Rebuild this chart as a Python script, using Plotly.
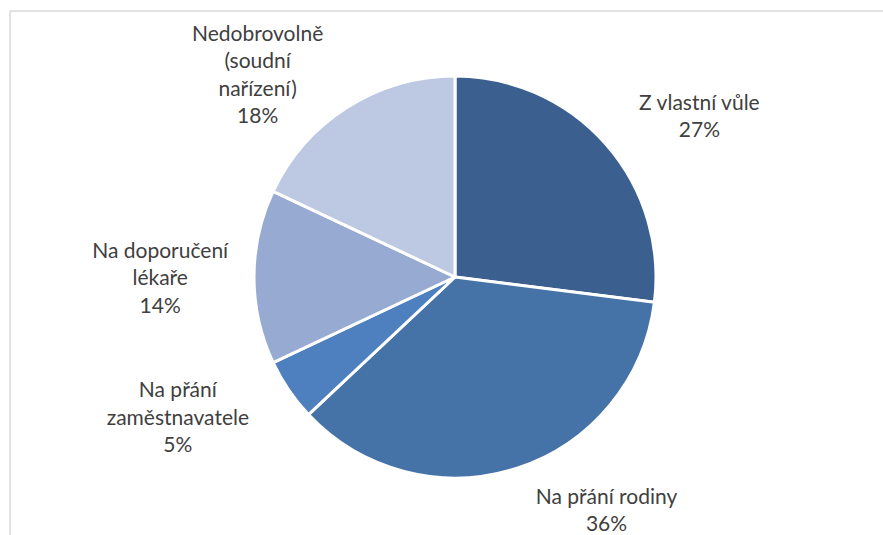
import plotly.graph_objects as go

# data
LABELS = [
    "Z vlastní vůle",
    "Na přání rodiny",
    "Na přání<br>zaměstnavatele",
    "Na doporučení<br>lékaře",
    "Nedobrovolně<br>(soudní<br>nařízení)",
]
VALUES = [27, 36, 5, 14, 18]

COLORS = ["#3b6090", "#4573a8", "#4e80c0", "#97aad2", "#bdc9e2"]
TEXT = "#404040"
FRAME = "#d9d9d9"
FONT = "Lato, Open Sans, sans-serif"

W, H = 883, 535
CX, CY, R = 455, 277, 201      # pie centre / radius in px

# labels sit on a transparent twin pie; each one is pushed out a bit
# (px beyond LABEL_R) to mimic Excel's placement
LABEL_R = 196
LABEL_PUSH = [32, 23, 29, 10, 0]


def domain(r):
    return dict(x=[(CX - r) / W, (CX + r) / W],
                y=[1 - (CY + r) / H, 1 - (CY - r) / H])


pulls = [p / LABEL_R for p in LABEL_PUSH]

fig = go.Figure()

# the visible pie
fig.add_pie(
    labels=LABELS,
    values=VALUES,
    sort=False,
    direction="clockwise",
    rotation=0,
    textinfo="none",
    marker=dict(colors=COLORS, line=dict(color="white", width=3)),
    domain=domain(R),
    showlegend=False,
    hovertemplate="%{label}: %{percent}<extra></extra>",
)

# transparent twin carrying the outside labels
# (plotly shrinks a pulled pie by 1 + max pull, so the domain is widened to match)
fig.add_pie(
    labels=LABELS,
    values=VALUES,
    sort=False,
    direction="clockwise",
    rotation=0,
    pull=pulls,
    automargin=False,
    textposition="outside",
    texttemplate="%{label}<br>%{percent:.0%}",
    textfont=dict(family=FONT, size=21, color=TEXT),
    marker=dict(colors=["rgba(0,0,0,0)"] * len(VALUES), line=dict(width=0)),
    domain=domain(LABEL_R * (1 + max(pulls))),
    showlegend=False,
    hoverinfo="skip",
)

# chart-area frame (only top and left edges show in the reference)
fig.add_shape(type="line", xref="paper", yref="paper",
              x0=10 / W, x1=1, y0=1 - 11 / H, y1=1 - 11 / H,
              line=dict(color=FRAME, width=1.5))
fig.add_shape(type="line", xref="paper", yref="paper",
              x0=10 / W, x1=10 / W, y0=0, y1=1 - 11 / H,
              line=dict(color=FRAME, width=1.5))

fig.update_layout(
    width=W,
    height=H,
    margin=dict(l=0, r=0, t=0, b=0, autoexpand=False),
    paper_bgcolor="white",
    plot_bgcolor="white",
    font=dict(family=FONT, color=TEXT),
)

fig.write_html("out.html", config={"displayModeBar": False},
               post_script="document.body.style.margin = '0';")
